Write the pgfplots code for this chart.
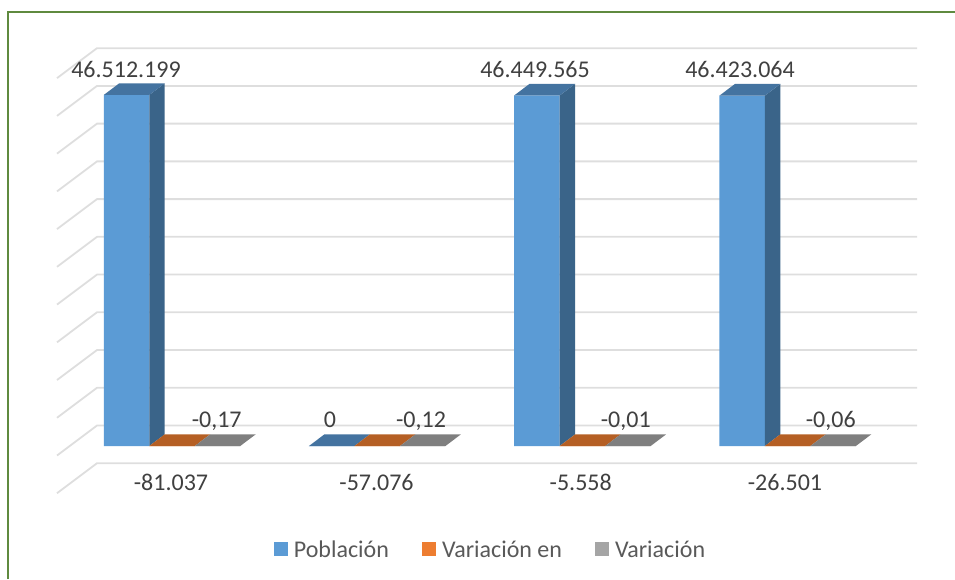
\documentclass[border=0pt]{standalone}
\usepackage{pgfplots}
\usepackage{pgfplotstable}
\usepackage{fontspec}
\setmainfont{Carlito}
\pgfplotsset{compat=1.18}
\definecolor{gridc}{HTML}{DEDEDE}
\definecolor{frontb}{HTML}{5B9BD5}
\definecolor{sideb}{HTML}{3A6489}
\definecolor{topb}{HTML}{4473A0}
\definecolor{fronto}{HTML}{ED7D31}
\definecolor{topo}{HTML}{B55F24}
\definecolor{frontg}{HTML}{A5A5A5}
\definecolor{topg}{HTML}{7F7F7F}
\definecolor{framec}{HTML}{5F8A3F}
\definecolor{labc}{HTML}{404040}
\definecolor{legc}{HTML}{595959}
\pgfplotstableread{
cat pob varen var
0 46512199 -0.17 -0.17
1 0 -0.12 -0.12
2 46449565 -0.01 -0.01
3 46423064 -0.06 -0.06
}\datos
\pgfplotsset{
  sq/.style={legend image code/.code={\fill[##1] (0pt,-5.5pt) rectangle (14pt,8.5pt);}},
  gl/.style={draw=gridc,line width=1.8pt,forget plot,mark=none},
  fc/.style={fill=#1,draw=none,forget plot,mark=none},
}
\newcommand{\lab}[3]{\node[anchor=base,text=labc,font=\fontsize{24}{25}\selectfont,inner sep=0pt] at (axis cs:#1,#2) {#3};}
\begin{document}
\begin{tikzpicture}
\path[use as bounding box] (0,0) rectangle (955pt,579pt);
\begin{axis}[
  at={(0,0)},anchor=south west,
  scale only axis,width=955pt,height=579pt,
  xmin=-0.83821,xmax=3.81579,ymin=-17624229,ymax=59100798,
  hide axis,clip=true,
  legend columns=3,
  legend cell align=left,
  legend style={at={(rel axis cs:0.5136,0.05)},anchor=center,draw=none,fill=none,
    font=\fontsize{24}{25}\selectfont\color{legc},inner sep=0pt,
    /tikz/every even column/.append style={column sep=31pt},
    /tikz/every odd column/.append style={column sep=4pt}},
]
% gridlines
\addplot[gl] coordinates {(-0.5604,-6258900)(-0.3655,-2283500)(3.6306,-2283500)};
\addplot[gl] coordinates {(-0.5604,-1258900)(-0.3655,2716500)(3.6306,2716500)};
\addplot[gl] coordinates {(-0.5604,3741100)(-0.3655,7716500)(3.6306,7716500)};
\addplot[gl] coordinates {(-0.5604,8741100)(-0.3655,12716500)(3.6306,12716500)};
\addplot[gl] coordinates {(-0.5604,13741100)(-0.3655,17716500)(3.6306,17716500)};
\addplot[gl] coordinates {(-0.5604,18741100)(-0.3655,22716500)(3.6306,22716500)};
\addplot[gl] coordinates {(-0.5604,23741100)(-0.3655,27716500)(3.6306,27716500)};
\addplot[gl] coordinates {(-0.5604,28741100)(-0.3655,32716500)(3.6306,32716500)};
\addplot[gl] coordinates {(-0.5604,33741100)(-0.3655,37716500)(3.6306,37716500)};
\addplot[gl] coordinates {(-0.5604,38741100)(-0.3655,42716500)(3.6306,42716500)};
\addplot[gl] coordinates {(-0.5604,43741100)(-0.3655,47716500)(3.6306,47716500)};
\addplot[gl] coordinates {(-0.5604,48741100)(-0.3655,52716500)(3.6306,52716500)};
% front faces
\addplot[ybar,sq,bar width=0.2217,bar shift=-0.2217,fill=frontb,draw=none] table[x=cat,y=pob] {\datos};
\addlegendentry{Población}
\addplot[ybar,sq,bar width=0.2217,bar shift=0,fill=fronto,draw=none] table[x=cat,y=varen] {\datos};
\addlegendentry{Variación en}
\addplot[ybar,sq,bar width=0.2217,bar shift=0.2217,fill=frontg,draw=none] table[x=cat,y=var] {\datos};
\addlegendentry{Variación}
% side faces of blue bars
\addplot[fc=sideb] coordinates {(-0.1109,0)(-0.0354,1550000)(-0.0354,48062199)(-0.1109,46512199)} -- cycle;
\addplot[fc=sideb] coordinates {(1.8891,0)(1.9646,1550000)(1.9646,47999565)(1.8891,46449565)} -- cycle;
\addplot[fc=sideb] coordinates {(2.8891,0)(2.9646,1550000)(2.9646,47973064)(2.8891,46423064)} -- cycle;
% top faces of blue bars
\addplot[fc=topb] coordinates {(-0.3326,46512199)(-0.1109,46512199)(-0.0354,48062199)(-0.2571,48062199)} -- cycle;
\addplot[fc=topb] coordinates {(1.6674,46449565)(1.8891,46449565)(1.9646,47999565)(1.7429,47999565)} -- cycle;
\addplot[fc=topb] coordinates {(2.6674,46423064)(2.8891,46423064)(2.9646,47973064)(2.7429,47973064)} -- cycle;
\addplot[fc=topb] coordinates {(0.6674,0)(0.8891,0)(0.9646,1550000)(0.7429,1550000)} -- cycle;
% flat orange tops
\addplot[fc=topo] coordinates {(-0.1109,0)(0.1109,0)(0.1864,1550000)(-0.0354,1550000)} -- cycle;
\addplot[fc=topo] coordinates {(0.8891,0)(1.1109,0)(1.1864,1550000)(0.9646,1550000)} -- cycle;
\addplot[fc=topo] coordinates {(1.8891,0)(2.1109,0)(2.1864,1550000)(1.9646,1550000)} -- cycle;
\addplot[fc=topo] coordinates {(2.8891,0)(3.1109,0)(3.1864,1550000)(2.9646,1550000)} -- cycle;
% flat grey tops
\addplot[fc=topg] coordinates {(0.1109,0)(0.3326,0)(0.4081,1550000)(0.1864,1550000)} -- cycle;
\addplot[fc=topg] coordinates {(1.1109,0)(1.3326,0)(1.4081,1550000)(1.1864,1550000)} -- cycle;
\addplot[fc=topg] coordinates {(2.1109,0)(2.3326,0)(2.4081,1550000)(2.1864,1550000)} -- cycle;
\addplot[fc=topg] coordinates {(3.1109,0)(3.3326,0)(3.4081,1550000)(3.1864,1550000)} -- cycle;
% labels
\lab{-0.2242}{48897000}{46.512.199}
\lab{1.769}{48897000}{46.449.565}
\lab{2.768}{48897000}{46.423.064}
\lab{0.2178}{2478000}{-0,17}
\lab{0.770}{2478000}{0}
\lab{1.2135}{2478000}{-0,12}
\lab{2.211}{2478000}{-0,01}
\lab{3.210}{2478000}{-0,06}
\lab{-0.005}{-5831000}{-81.037}
\lab{0.9966}{-5831000}{-57.076}
\lab{1.9917}{-5831000}{-5.558}
\lab{2.987}{-5831000}{-26.501}
% frame
\draw[framec,line width=2pt] (axis cs:-0.80166,-17624229) -- (axis cs:-0.80166,57510642) -- (axis cs:3.81579,57510642);
\end{axis}
\end{tikzpicture}
\end{document}
